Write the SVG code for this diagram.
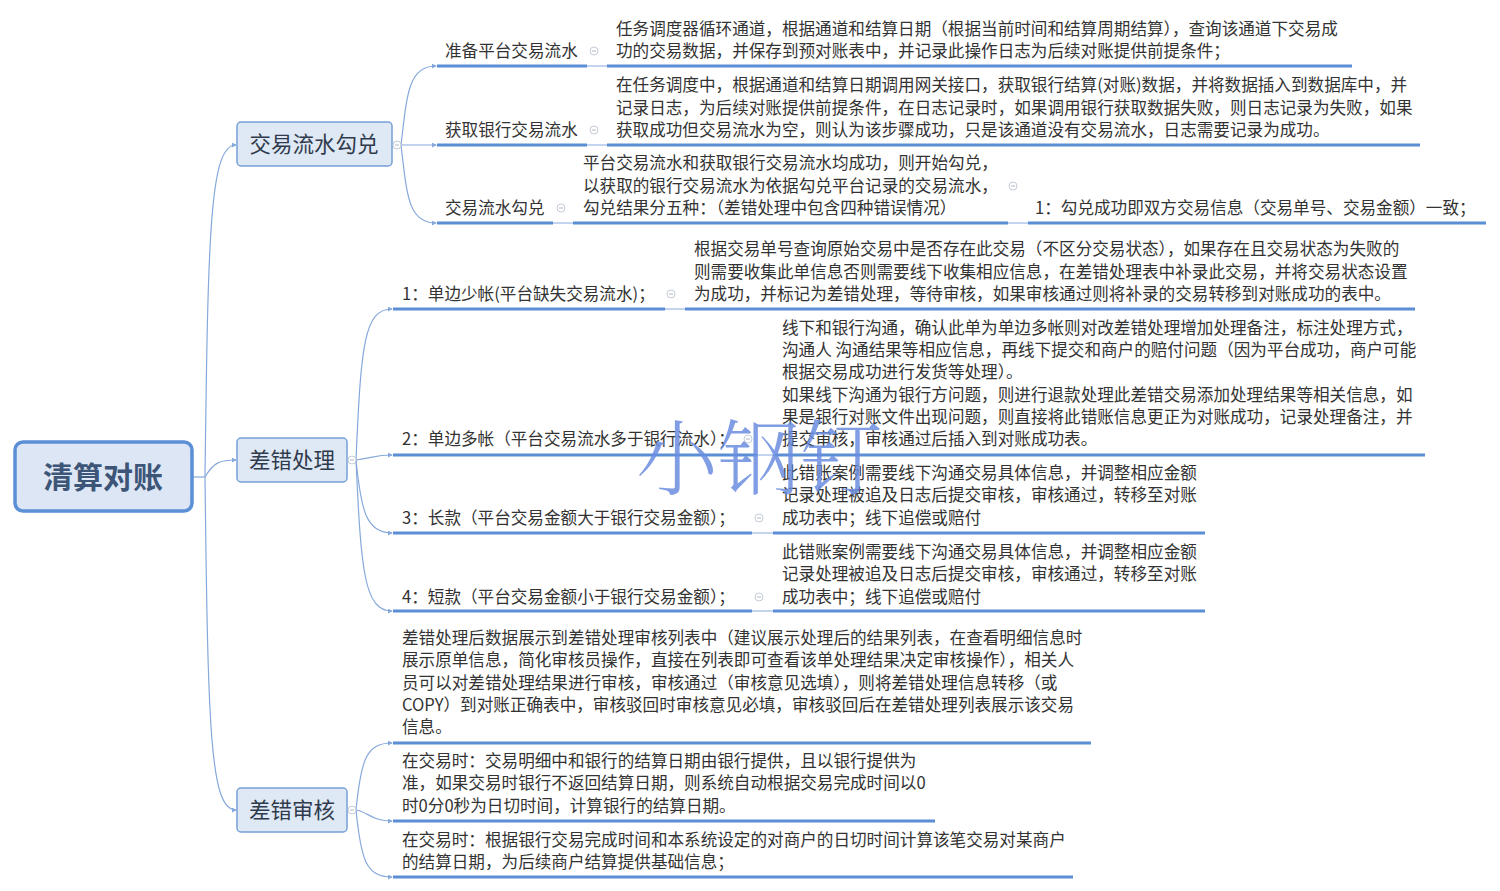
<svg xmlns="http://www.w3.org/2000/svg" width="1500" height="891" viewBox="0 0 1500 891">
<defs>
<style>
text{font-family:"Noto Sans CJK SC","Microsoft YaHei",sans-serif;fill:#333;}
.t{font-size:16.6px;}
.l1{font-size:21.5px;fill:#2f3b4c;}
.root{font-size:30px;font-weight:bold;fill:#3d5577;}
.box{fill:#dfe8f5;stroke:#77a0d6;stroke-width:1.5;}
.rootbox{fill:#dce6f4;stroke:#5b8fd6;stroke-width:3.5;}
.c{fill:none;stroke:#86a9dc;stroke-width:1.2;}
.u{stroke:#5b8ed4;stroke-width:3;}
.thin{stroke:#86a9dc;stroke-width:1;}
.tog{fill:#fff;stroke:#c4ccd8;stroke-width:1;}
.togm{stroke:#b0b8c6;stroke-width:1;}
.wm{font-family:"Noto Serif CJK SC","Noto Sans CJK SC",serif;font-size:82px;font-weight:300;fill:#6b8de0;fill-opacity:0.85;}
</style>
<marker id="ar" viewBox="0 0 6 6" refX="5" refY="3" markerWidth="5" markerHeight="5" orient="auto" markerUnits="userSpaceOnUse">
<path d="M0,0 L6,3 L0,6 z" fill="#86a9dc"/>
</marker>
<g id="tg"><circle r="4" class="tog"/><line x1="-2" y1="0" x2="2" y2="0" class="togm"/></g>
</defs>
<rect width="1500" height="891" fill="#fff"/>

<g id="connectors">
<path class="c" d="M192,477 L205,477"/>
<path class="c" d="M205,477 C208,230 210,145 236,145" marker-end="url(#ar)"/>
<path class="c" d="M205,477 C214,462 220,460 236,460" marker-end="url(#ar)"/>
<path class="c" d="M205,477 C208,730 210,810 236,810" marker-end="url(#ar)"/>

<path class="c" d="M401,145 C407,95 408,66 436,66" marker-end="url(#ar)"/>
<path class="c" d="M401,145 L436,145" marker-end="url(#ar)"/>
<path class="c" d="M401,145 C407,195 408,223 436,223" marker-end="url(#ar)"/>

<path class="c" d="M356,460 C361,345 364,309 392,309" marker-end="url(#ar)"/>
<path class="c" d="M356,460 C372,458 376,455 392,455" marker-end="url(#ar)"/>
<path class="c" d="M356,460 C361,510 366,533 392,533" marker-end="url(#ar)"/>
<path class="c" d="M356,460 C361,570 364,611 392,611" marker-end="url(#ar)"/>

<path class="c" d="M356,810 C361,760 366,743 392,743" marker-end="url(#ar)"/>
<path class="c" d="M356,810 C368,812 372,821 392,821" marker-end="url(#ar)"/>
<path class="c" d="M356,810 C361,860 366,877 392,877" marker-end="url(#ar)"/>

<line class="thin" x1="587" y1="66" x2="607" y2="66"/>
<line class="thin" x1="587" y1="145" x2="607" y2="145"/>
<line class="thin" x1="553" y1="223" x2="573" y2="223"/>
<line class="thin" x1="1008" y1="223" x2="1028" y2="223"/>
<line class="thin" x1="665" y1="309" x2="685" y2="309"/>
<line class="thin" x1="757" y1="455" x2="775" y2="455"/>
<line class="thin" x1="752" y1="533" x2="773" y2="533"/>
<line class="thin" x1="752" y1="611" x2="773" y2="611"/>
</g>

<g id="root">
<rect class="rootbox" x="15" y="442" width="177" height="69" rx="8"/>
<text class="root" x="103" y="488" text-anchor="middle">清算对账</text>
</g>

<g id="n-jiaoyi">
<rect class="box" x="237" y="122" width="155" height="44" rx="4"/>
<text class="l1" x="314" y="152" text-anchor="middle">交易流水勾兑</text>
<use href="#tg" x="397" y="145"/>
</g>
<g id="n-chacuo">
<rect class="box" x="237" y="438" width="110" height="44" rx="4"/>
<text class="l1" x="292" y="468" text-anchor="middle">差错处理</text>
<use href="#tg" x="352" y="460"/>
</g>
<g id="n-shenhe">
<rect class="box" x="237" y="788" width="110" height="44" rx="4"/>
<text class="l1" x="292" y="818" text-anchor="middle">差错审核</text>
<use href="#tg" x="352" y="810"/>
</g>

<g id="n-a1">
<text class="t" x="445" y="57">准备平台交易流水</text>
<line class="u" x1="437" y1="66" x2="587" y2="66"/>
<use href="#tg" x="594" y="51"/>
</g>
<g id="n-a1-leaf">
<text class="t" x="616" y="35">任务调度器循环通道，根据通道和结算日期（根据当前时间和结算周期结算），查询该通道下交易成</text>
<text class="t" x="616" y="57">功的交易数据，并保存到预对账表中，并记录此操作日志为后续对账提供前提条件；</text>
<line class="u" x1="607" y1="66" x2="1352" y2="66"/>
</g>

<g id="n-a2">
<text class="t" x="445" y="136">获取银行交易流水</text>
<line class="u" x1="437" y1="145" x2="587" y2="145"/>
<use href="#tg" x="594" y="130"/>
</g>
<g id="n-a2-leaf">
<text class="t" x="616" y="91">在任务调度中，根据通道和结算日期调用网关接口，获取银行结算(对账)数据，并将数据插入到数据库中，并</text>
<text class="t" x="616" y="114">记录日志，为后续对账提供前提条件，在日志记录时，如果调用银行获取数据失败，则日志记录为失败，如果</text>
<text class="t" x="616" y="136">获取成功但交易流水为空，则认为该步骤成功，只是该通道没有交易流水，日志需要记录为成功。</text>
<line class="u" x1="607" y1="145" x2="1420" y2="145"/>
</g>

<g id="n-a3">
<text class="t" x="445" y="214">交易流水勾兑</text>
<line class="u" x1="437" y1="223" x2="553" y2="223"/>
<use href="#tg" x="561" y="208"/>
</g>
<g id="n-a3-leaf">
<text class="t" x="583" y="169">平台交易流水和获取银行交易流水均成功，则开始勾兑，</text>
<text class="t" x="583" y="192">以获取的银行交易流水为依据勾兑平台记录的交易流水，</text>
<text class="t" x="583" y="214">勾兑结果分五种：（差错处理中包含四种错误情况）</text>
<line class="u" x1="573" y1="223" x2="1008" y2="223"/>
<use href="#tg" x="1013" y="186"/>
</g>
<g id="n-a3-1">
<text class="t" x="1035" y="214">1：勾兑成功即双方交易信息（交易单号、交易金额）一致；</text>
<line class="u" x1="1028" y1="223" x2="1486" y2="223"/>
</g>

<g id="n-b1">
<text class="t" x="402" y="300">1：单边少帐(平台缺失交易流水)；</text>
<line class="u" x1="393" y1="309" x2="665" y2="309"/>
<use href="#tg" x="671" y="294"/>
</g>
<g id="n-b1-leaf">
<text class="t" x="694" y="255">根据交易单号查询原始交易中是否存在此交易（不区分交易状态），如果存在且交易状态为失败的</text>
<text class="t" x="694" y="278">则需要收集此单信息否则需要线下收集相应信息，在差错处理表中补录此交易，并将交易状态设置</text>
<text class="t" x="694" y="300">为成功，并标记为差错处理，等待审核，如果审核通过则将补录的交易转移到对账成功的表中。</text>
<line class="u" x1="685" y1="309" x2="1415" y2="309"/>
</g>

<g id="n-b2">
<text class="t" x="402" y="445">2：单边多帐（平台交易流水多于银行流水）；</text>
<line class="u" x1="393" y1="455" x2="757" y2="455"/>
<use href="#tg" x="748" y="439"/>
</g>
<g id="n-b2-leaf">
<text class="t" x="782" y="334">线下和银行沟通，确认此单为单边多帐则对改差错处理增加处理备注，标注处理方式，</text>
<text class="t" x="782" y="356">沟通人 沟通结果等相应信息，再线下提交和商户的赔付问题（因为平台成功，商户可能</text>
<text class="t" x="782" y="378">根据交易成功进行发货等处理）。</text>
<text class="t" x="782" y="401">如果线下沟通为银行方问题，则进行退款处理此差错交易添加处理结果等相关信息，如</text>
<text class="t" x="782" y="423">果是银行对账文件出现问题，则直接将此错账信息更正为对账成功，记录处理备注，并</text>
<text class="t" x="782" y="445">提交审核，审核通过后插入到对账成功表。</text>
<line class="u" x1="775" y1="455" x2="1425" y2="455"/>
</g>

<g id="n-b3">
<text class="t" x="402" y="524">3：长款（平台交易金额大于银行交易金额）；</text>
<line class="u" x1="393" y1="533" x2="752" y2="533"/>
<use href="#tg" x="759" y="518"/>
</g>
<g id="n-b3-leaf">
<text class="t" x="782" y="479">此错账案例需要线下沟通交易具体信息，并调整相应金额</text>
<text class="t" x="782" y="501">记录处理被追及日志后提交审核，审核通过，转移至对账</text>
<text class="t" x="782" y="524">成功表中；线下追偿或赔付</text>
<line class="u" x1="773" y1="533" x2="1205" y2="533"/>
</g>

<g id="n-b4">
<text class="t" x="402" y="603">4：短款（平台交易金额小于银行交易金额）；</text>
<line class="u" x1="393" y1="611" x2="752" y2="611"/>
<use href="#tg" x="759" y="597"/>
</g>
<g id="n-b4-leaf">
<text class="t" x="782" y="558">此错账案例需要线下沟通交易具体信息，并调整相应金额</text>
<text class="t" x="782" y="580">记录处理被追及日志后提交审核，审核通过，转移至对账</text>
<text class="t" x="782" y="603">成功表中；线下追偿或赔付</text>
<line class="u" x1="773" y1="611" x2="1205" y2="611"/>
</g>

<g id="n-c1">
<text class="t" x="402" y="644">差错处理后数据展示到差错处理审核列表中（建议展示处理后的结果列表，在查看明细信息时</text>
<text class="t" x="402" y="666">展示原单信息，简化审核员操作，直接在列表即可查看该单处理结果决定审核操作），相关人</text>
<text class="t" x="402" y="689">员可以对差错处理结果进行审核，审核通过（审核意见选填），则将差错处理信息转移（或</text>
<text class="t" x="402" y="711">COPY）到对账正确表中，审核驳回时审核意见必填，审核驳回后在差错处理列表展示该交易</text>
<text class="t" x="402" y="733">信息。</text>
<line class="u" x1="393" y1="743" x2="1091" y2="743"/>
</g>
<g id="n-c2">
<text class="t" x="402" y="767">在交易时：交易明细中和银行的结算日期由银行提供，且以银行提供为</text>
<text class="t" x="402" y="789">准，如果交易时银行不返回结算日期，则系统自动根据交易完成时间以0</text>
<text class="t" x="402" y="812">时0分0秒为日切时间，计算银行的结算日期。</text>
<line class="u" x1="393" y1="821" x2="935" y2="821"/>
</g>
<g id="n-c3">
<text class="t" x="402" y="846">在交易时：根据银行交易完成时间和本系统设定的对商户的日切时间计算该笔交易对某商户</text>
<text class="t" x="402" y="868">的结算日期，为后续商户结算提供基础信息；</text>
<line class="u" x1="393" y1="877" x2="1073" y2="877"/>
</g>

<text class="wm" x="636" y="488">小钢钉</text>
</svg>
